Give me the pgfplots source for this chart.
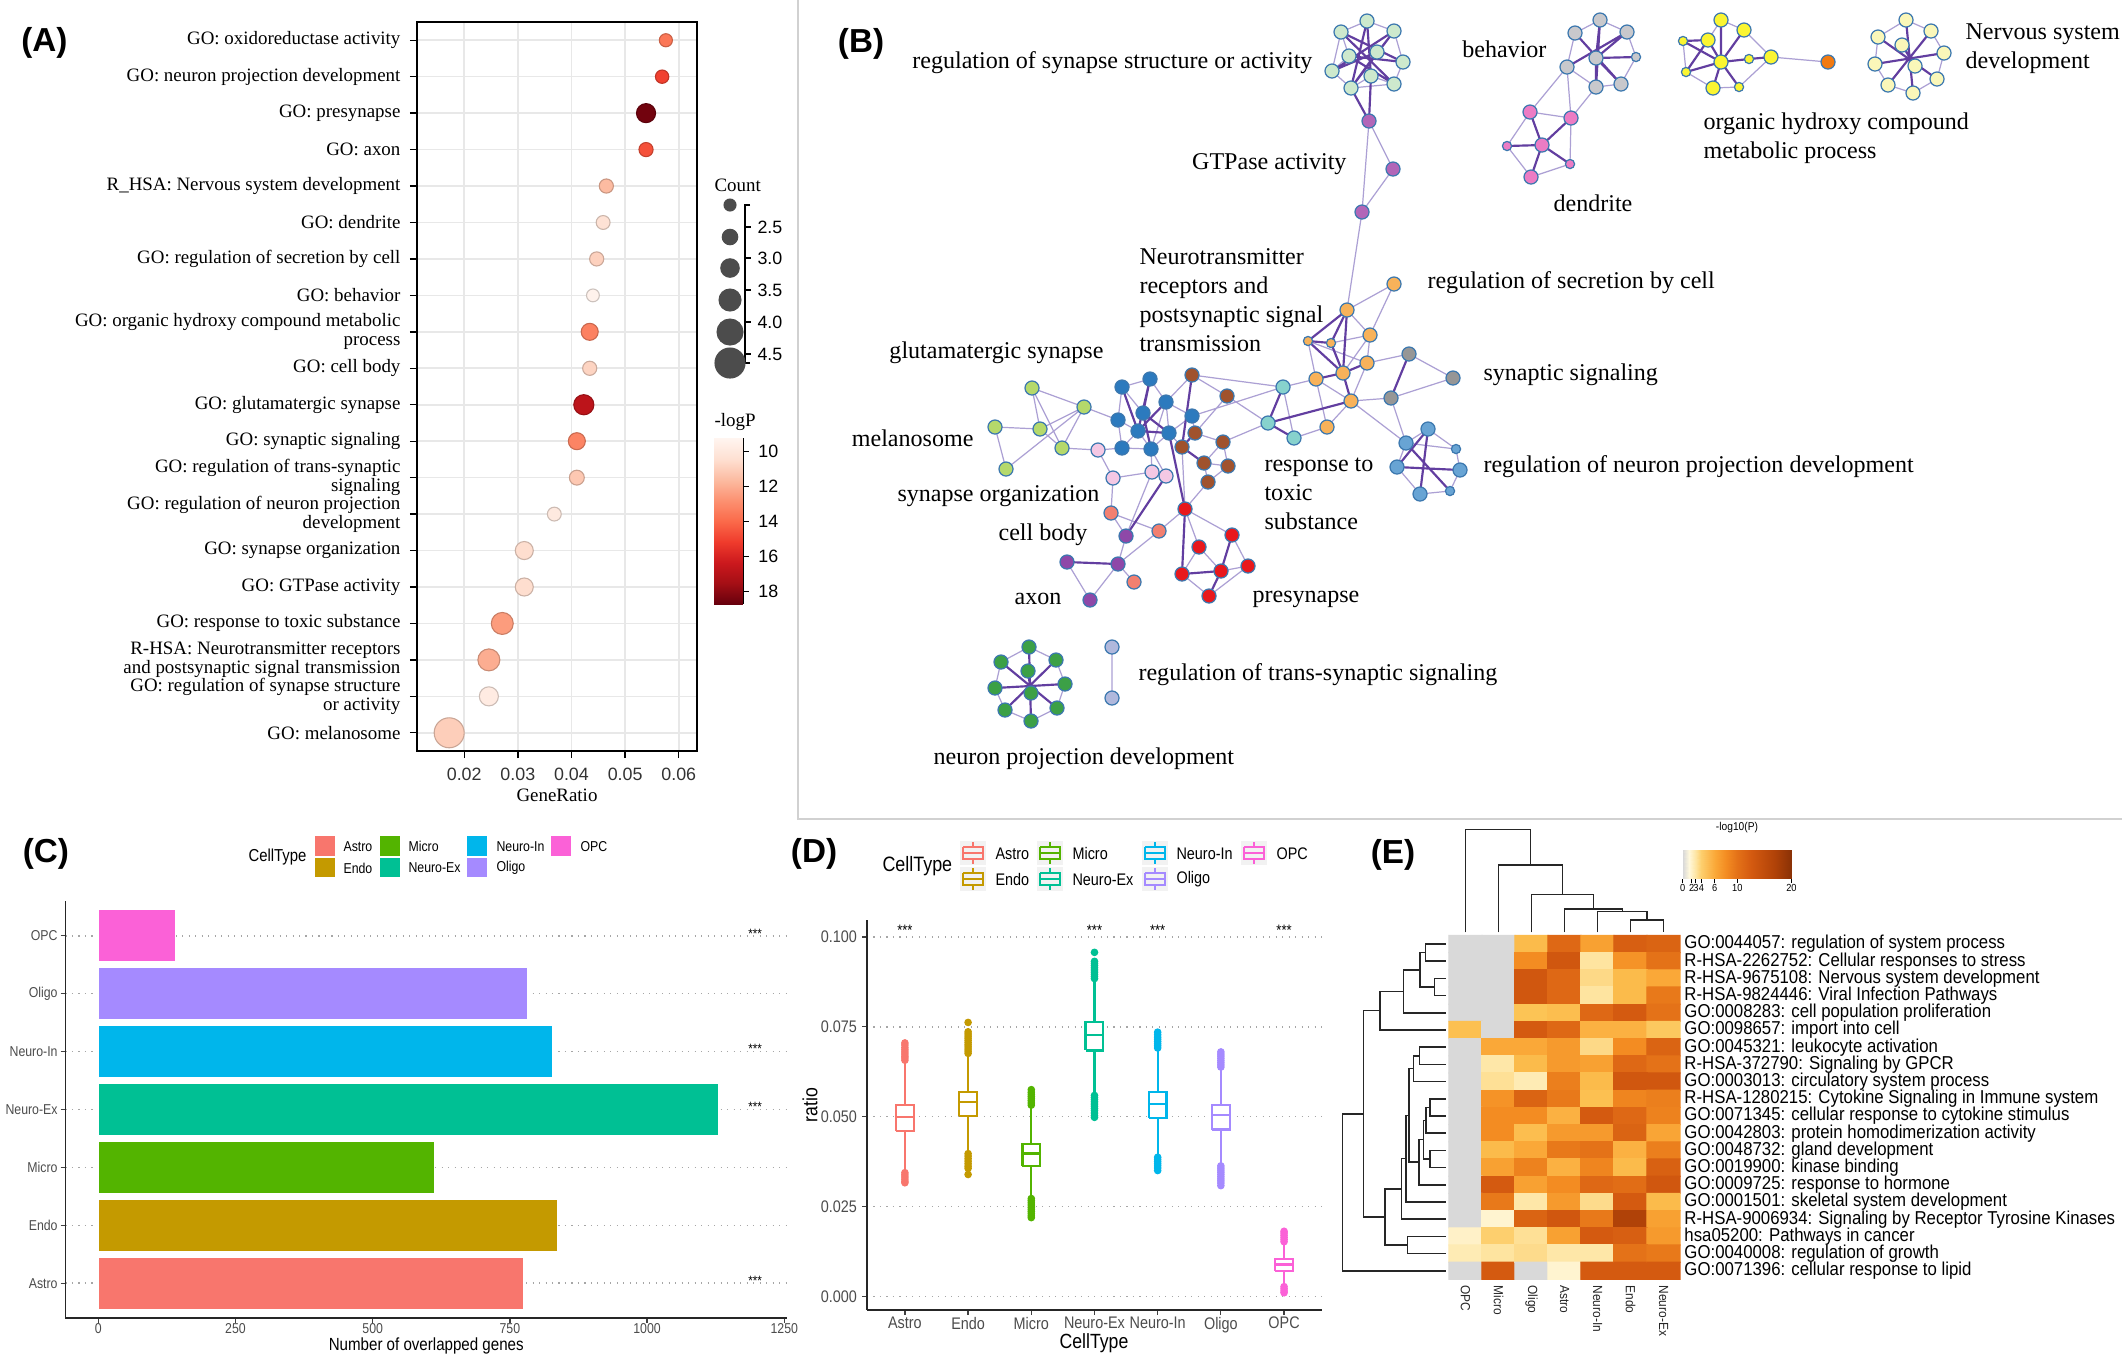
\documentclass[border=0pt]{standalone}
\usepackage{fontspec}
\setmainfont{Liberation Serif}
\setsansfont{Liberation Sans}
\newfontfamily\nsans[FakeStretch=0.86]{Liberation Sans}
\newfontfamily\esans[FakeStretch=0.9]{Liberation Sans}
\usepackage{pgfplots}
\pgfplotsset{compat=1.18}
\definecolor{cAstro}{HTML}{F8766D}
\definecolor{cEndo}{HTML}{C49A00}
\definecolor{cMicro}{HTML}{53B400}
\definecolor{cNeuroEx}{HTML}{00C094}
\definecolor{cNeuroIn}{HTML}{00B6EB}
\definecolor{cOligo}{HTML}{A58AFF}
\definecolor{cOPC}{HTML}{FB61D7}
\definecolor{nodeedge}{RGB}{60,120,175}
\definecolor{elight}{RGB}{172,160,212}
\definecolor{estrong}{RGB}{98,62,160}
\definecolor{cSyn}{RGB}{205,233,205}
\definecolor{cGTP}{RGB}{178,102,184}
\definecolor{cOrg}{RGB}{247,178,90}
\definecolor{cGry}{RGB}{150,150,150}
\definecolor{cTea}{RGB}{135,210,205}
\definecolor{cLbl}{RGB}{104,164,212}
\definecolor{cDbl}{RGB}{44,122,190}
\definecolor{cBrn}{RGB}{160,82,45}
\definecolor{cMel}{RGB}{181,217,107}
\definecolor{cPnk}{RGB}{244,200,228}
\definecolor{cSal}{RGB}{242,128,112}
\definecolor{cAxn}{RGB}{142,72,168}
\definecolor{cRed}{RGB}{232,24,28}
\definecolor{cGrn}{RGB}{60,160,70}
\definecolor{cLav}{RGB}{176,184,220}
\definecolor{cBeh}{RGB}{200,200,204}
\definecolor{cDen}{RGB}{236,124,196}
\definecolor{cYel}{RGB}{250,245,50}
\definecolor{cDor}{RGB}{242,122,16}
\definecolor{cLye}{RGB}{250,247,185}
\pgfplotsset{
 colormap={reds}{rgb255=(255,245,240) rgb255=(254,224,210) rgb255=(252,187,161) rgb255=(252,146,114) rgb255=(251,106,74) rgb255=(239,59,44) rgb255=(203,24,29) rgb255=(165,15,21) rgb255=(103,0,13)},
 colormap={heat}{rgb255(0cm)=(217,217,217) rgb255(1.5cm)=(255,248,220) rgb255(3cm)=(254,228,160) rgb255(4.5cm)=(252,196,85) rgb255(6cm)=(250,168,56) rgb255(8cm)=(243,140,34) rgb255(10cm)=(228,114,24) rgb255(12.5cm)=(212,90,16) rgb255(17cm)=(176,66,8) rgb255(20cm)=(139,50,6)},
 colormap={heatleg}{rgb255(0cm)=(217,217,217) rgb255(13.5cm)=(255,248,220) rgb255(26cm)=(254,228,160) rgb255(37cm)=(253,207,110) rgb255(63cm)=(250,168,56) rgb255(85cm)=(243,140,34) rgb255(107cm)=(228,114,24) rgb255(133.5cm)=(212,90,16) rgb255(181cm)=(176,66,8) rgb255(213cm)=(139,50,6)},
 netnode/.style={only marks, mark=*, mark size=2.6pt, mark options={draw=nodeedge, line width=0.45pt, fill=#1}},
 netsmall/.style={only marks, mark=*, mark size=1.7pt, mark options={draw=nodeedge, line width=0.45pt, fill=#1}},
}
\newcommand\fB{\fontsize{8.9}{10.73}\selectfont}
\begin{document}
\begin{tikzpicture}
\path[use as bounding box] (0,0) rectangle (787.36pt,-503.94pt);
\fill[white] (0,0) rectangle (787.36pt,-503.94pt);

%================ OVERLAY (pixel coordinates) ================
\begin{axis}[at={(0pt,0pt)}, anchor=north west, scale only axis, width=787.36pt, height=503.94pt,
 xmin=0, xmax=2128, ymin=0, ymax=1362, y dir=reverse, hide axis, clip=false]
% panel B frame
\addplot[draw=black!18, line width=0.7pt] coordinates {(798,0) (798,819) (2122,819)};
% light edges
\addplot[elight, line width=0.45pt, unbounded coords=jump] coordinates {
(1367,21)(1341,32) (nan,nan) (1367,21)(1394,31) (nan,nan) (1394,31)(1403,62) (nan,nan) (1403,62)(1394,84) (nan,nan)
(1394,84)(1351,88) (nan,nan) (1351,88)(1332,71) (nan,nan) (1332,71)(1341,32) (nan,nan) (1341,32)(1349,56) (nan,nan)
(1377,52)(1394,31) (nan,nan) (1349,56)(1332,71) (nan,nan) (1371,76)(1394,84) (nan,nan) (1371,76)(1351,88) (nan,nan)
(1369,121)(1393,169) (nan,nan) (1393,169)(1362,212) (nan,nan) (1369,121)(1362,212) (nan,nan) (1362,212)(1347,310) (nan,nan)
(1394,284)(1347,310) (nan,nan) (1394,284)(1370,335) (nan,nan) (1347,310)(1370,335) (nan,nan) (1308,341)(1367,363) (nan,nan)
(1331,343)(1370,335) (nan,nan) (1370,335)(1367,363) (nan,nan) (1367,363)(1351,401) (nan,nan) (1316,379)(1351,401) (nan,nan)
(1308,341)(1316,379) (nan,nan) (1370,335)(1343,373) (nan,nan) (1316,379)(1283,387) (nan,nan) (1327,427)(1294,438) (nan,nan)
(1327,427)(1316,379) (nan,nan) (1351,401)(1327,427) (nan,nan) (1409,354)(1453,378) (nan,nan) (1391,398)(1453,378) (nan,nan)
(1409,354)(1367,363) (nan,nan) (1391,398)(1351,401) (nan,nan) (1391,398)(1406,443) (nan,nan) (1351,401)(1406,443) (nan,nan)
(1283,387)(1294,438) (nan,nan) (1283,387)(1192,416) (nan,nan) (1268,423)(1227,396) (nan,nan) (1283,387)(1192,375) (nan,nan)
(1268,423)(1223,442) (nan,nan) (1406,443)(1456,449) (nan,nan) (1397,467)(1420,494) (nan,nan) (1420,494)(1450,491) (nan,nan)
(1456,449)(1460,470) (nan,nan) (1428,429)(1406,443) (nan,nan) (1460,470)(1450,491) (nan,nan) (1406,443)(1397,467) (nan,nan)
(1428,429)(1456,449) (nan,nan) (1122,387)(1143,413) (nan,nan) (1150,379)(1166,402) (nan,nan) (1166,402)(1169,433) (nan,nan)
(1118,420)(1138,431) (nan,nan) (1192,416)(1169,433) (nan,nan) (1138,431)(1151,449) (nan,nan) (1122,448)(1151,449) (nan,nan)
(1122,448)(1138,431) (nan,nan) (1122,387)(1118,420) (nan,nan) (1166,402)(1151,449) (nan,nan) (1169,433)(1151,449) (nan,nan)
(1192,416)(1166,402) (nan,nan) (1118,420)(1122,448) (nan,nan) (1122,387)(1150,379) (nan,nan) (1192,375)(1227,396) (nan,nan)
(1195,433)(1223,442) (nan,nan) (1223,442)(1204,463) (nan,nan) (1204,463)(1228,466) (nan,nan) (1204,463)(1208,482) (nan,nan)
(1228,466)(1208,482) (nan,nan) (1223,442)(1228,466) (nan,nan) (1227,396)(1195,433) (nan,nan) (1182,447)(1169,433) (nan,nan)
(1195,433)(1192,416) (nan,nan) (1192,375)(1166,402) (nan,nan) (1032,388)(1084,407) (nan,nan) (1032,388)(1040,429) (nan,nan)
(1032,388)(1062,448) (nan,nan) (1084,407)(1040,429) (nan,nan) (995,427)(1040,429) (nan,nan) (1040,429)(1062,448) (nan,nan)
(995,427)(1006,469) (nan,nan) (1006,469)(1084,407) (nan,nan) (1084,407)(1062,448) (nan,nan) (1062,448)(1098,450) (nan,nan)
(1084,407)(1118,420) (nan,nan) (1098,450)(1113,478) (nan,nan) (1098,450)(1122,448) (nan,nan) (1113,478)(1152,472) (nan,nan)
(1152,472)(1166,476) (nan,nan) (1152,472)(1151,449) (nan,nan) (1166,476)(1151,449) (nan,nan) (1113,478)(1111,513) (nan,nan)
(1111,513)(1159,531) (nan,nan) (1111,513)(1126,536) (nan,nan) (1159,531)(1118,564) (nan,nan) (1134,582)(1118,564) (nan,nan)
(1126,536)(1118,564) (nan,nan) (1067,562)(1090,600) (nan,nan) (1118,564)(1090,600) (nan,nan) (1126,536)(1152,472) (nan,nan)
(1159,531)(1185,509) (nan,nan) (1185,509)(1199,547) (nan,nan) (1185,509)(1232,535) (nan,nan) (1232,535)(1248,566) (nan,nan)
(1199,547)(1221,571) (nan,nan) (1199,547)(1182,574) (nan,nan) (1221,571)(1248,566) (nan,nan) (1248,566)(1209,596) (nan,nan)
(1182,574)(1209,596) (nan,nan) (1185,509)(1182,447) (nan,nan) (1185,509)(1208,482) (nan,nan) (1029,647)(1001,662) (nan,nan)
(1029,647)(1056,660) (nan,nan) (1056,660)(1065,684) (nan,nan) (1065,684)(1057,708) (nan,nan) (1057,708)(1031,721) (nan,nan)
(1031,721)(1005,710) (nan,nan) (1005,710)(995,688) (nan,nan) (995,688)(1001,662) (nan,nan) (1112,647)(1112,698) (nan,nan)
(1600,20)(1575,33) (nan,nan) (1600,20)(1627,32) (nan,nan) (1627,32)(1636,57) (nan,nan) (1636,57)(1621,84) (nan,nan)
(1621,84)(1596,87) (nan,nan) (1596,87)(1567,67) (nan,nan) (1567,67)(1575,33) (nan,nan) (1567,67)(1530,112) (nan,nan)
(1567,67)(1571,118) (nan,nan) (1596,87)(1571,118) (nan,nan) (1530,112)(1507,146) (nan,nan) (1507,146)(1531,177) (nan,nan)
(1570,164)(1531,177) (nan,nan) (1571,118)(1570,164) (nan,nan) (1530,112)(1571,118) (nan,nan) (1683,41)(1686,72) (nan,nan)
(1721,20)(1744,30) (nan,nan) (1744,30)(1771,57) (nan,nan) (1713,88)(1739,87) (nan,nan) (1686,72)(1713,88) (nan,nan)
(1721,20)(1708,40) (nan,nan) (1739,87)(1771,57) (nan,nan) (1771,57)(1828,62) (nan,nan) (1906,20)(1931,31) (nan,nan)
(1931,31)(1944,53) (nan,nan) (1944,53)(1937,79) (nan,nan) (1937,79)(1913,93) (nan,nan) (1913,93)(1888,85) (nan,nan)
(1888,85)(1875,64) (nan,nan) (1875,64)(1878,37) (nan,nan) (1878,37)(1906,20)
};
% strong edges
\addplot[estrong, line width=0.8pt, unbounded coords=jump] coordinates {
(1367,21)(1371,76) (nan,nan) (1367,21)(1351,88) (nan,nan) (1341,32)(1394,84) (nan,nan) (1341,32)(1403,62) (nan,nan)
(1394,31)(1332,71) (nan,nan) (1394,31)(1351,88) (nan,nan) (1349,56)(1403,62) (nan,nan) (1377,52)(1332,71) (nan,nan)
(1349,56)(1394,84) (nan,nan) (1377,52)(1351,88) (nan,nan) (1351,88)(1369,121) (nan,nan) (1371,76)(1369,121) (nan,nan)
(1347,310)(1308,341) (nan,nan) (1347,310)(1331,343) (nan,nan) (1347,310)(1343,373) (nan,nan) (1308,341)(1331,343) (nan,nan)
(1308,341)(1343,373) (nan,nan) (1331,343)(1343,373) (nan,nan) (1343,373)(1351,401) (nan,nan) (1367,363)(1343,373) (nan,nan)
(1343,373)(1316,379) (nan,nan) (1409,354)(1391,398) (nan,nan) (1283,387)(1268,423) (nan,nan) (1268,423)(1351,401) (nan,nan)
(1268,423)(1294,438) (nan,nan) (1428,429)(1420,494) (nan,nan) (1397,467)(1460,470) (nan,nan) (1406,443)(1450,491) (nan,nan)
(1428,429)(1397,467) (nan,nan) (1150,379)(1143,413) (nan,nan) (1138,431)(1169,433) (nan,nan) (1150,379)(1138,431) (nan,nan)
(1143,413)(1169,433) (nan,nan) (1166,402)(1138,431) (nan,nan) (1122,387)(1138,431) (nan,nan) (1143,413)(1151,449) (nan,nan)
(1192,375)(1182,447) (nan,nan) (1195,433)(1182,447) (nan,nan) (1182,447)(1204,463) (nan,nan) (1067,562)(1118,564) (nan,nan)
(1126,536)(1166,476) (nan,nan) (1232,535)(1221,571) (nan,nan) (1182,574)(1221,571) (nan,nan) (1221,571)(1209,596) (nan,nan)
(1185,509)(1182,574) (nan,nan) (1185,509)(1169,433) (nan,nan) (1029,647)(1031,721) (nan,nan) (1001,662)(1057,708) (nan,nan)
(1056,660)(1005,710) (nan,nan) (995,688)(1065,684) (nan,nan) (1028,671)(1031,693) (nan,nan) (1596,58)(1600,20) (nan,nan)
(1596,58)(1627,32) (nan,nan) (1596,58)(1636,57) (nan,nan) (1596,58)(1596,87) (nan,nan) (1596,58)(1621,84) (nan,nan)
(1575,33)(1621,84) (nan,nan) (1600,20)(1596,87) (nan,nan) (1627,32)(1567,67) (nan,nan) (1530,112)(1542,145) (nan,nan)
(1571,118)(1542,145) (nan,nan) (1507,146)(1542,145) (nan,nan) (1542,145)(1570,164) (nan,nan) (1542,145)(1531,177) (nan,nan)
(1721,62)(1721,20) (nan,nan) (1721,62)(1744,30) (nan,nan) (1721,62)(1683,41) (nan,nan) (1721,62)(1708,40) (nan,nan)
(1721,62)(1749,59) (nan,nan) (1721,62)(1686,72) (nan,nan) (1721,62)(1713,88) (nan,nan) (1721,62)(1739,87) (nan,nan)
(1749,59)(1771,57) (nan,nan) (1708,40)(1686,72) (nan,nan) (1683,41)(1708,40) (nan,nan) (1906,20)(1913,93) (nan,nan)
(1931,31)(1888,85) (nan,nan) (1878,37)(1937,79) (nan,nan) (1944,53)(1875,64) (nan,nan) (1902,45)(1915,66)
};
% network nodes
\addplot[netnode=cSyn] coordinates {(1367,21)(1341,32)(1394,31)(1349,56)(1377,52)(1403,62)(1332,71)(1371,76)(1394,84)(1351,88)};
\addplot[netnode=cGTP] coordinates {(1369,121)(1393,169)(1362,212)};
\addplot[netnode=cOrg] coordinates {(1394,284)(1347,310)(1370,335)(1367,363)(1343,373)(1316,379)(1351,401)(1327,427)};
\addplot[netsmall=cOrg] coordinates {(1308,341)(1331,343)};
\addplot[netnode=cGry] coordinates {(1409,354)(1453,378)(1391,398)};
\addplot[netnode=cTea] coordinates {(1283,387)(1268,423)(1294,438)};
\addplot[netnode=cLbl] coordinates {(1428,429)(1406,443)(1397,467)(1460,470)(1420,494)};
\addplot[netsmall=cLbl] coordinates {(1456,449)(1450,491)};
\addplot[netnode=cDbl] coordinates {(1122,387)(1150,379)(1166,402)(1143,413)(1118,420)(1192,416)(1138,431)(1169,433)(1122,448)(1151,449)};
\addplot[netnode=cBrn] coordinates {(1192,375)(1227,396)(1195,433)(1223,442)(1182,447)(1204,463)(1228,466)(1208,482)};
\addplot[netnode=cMel] coordinates {(1032,388)(1084,407)(995,427)(1040,429)(1062,448)(1006,469)};
\addplot[netnode=cPnk] coordinates {(1098,450)(1113,478)(1152,472)(1166,476)};
\addplot[netnode=cSal] coordinates {(1111,513)(1159,531)(1134,582)};
\addplot[netnode=cAxn] coordinates {(1126,536)(1067,562)(1118,564)(1090,600)};
\addplot[netnode=cRed] coordinates {(1185,509)(1232,535)(1199,547)(1182,574)(1221,571)(1248,566)(1209,596)};
\addplot[netnode=cGrn] coordinates {(1029,647)(1001,662)(1056,660)(1028,671)(995,688)(1065,684)(1031,693)(1005,710)(1057,708)(1031,721)};
\addplot[netnode=cLav] coordinates {(1112,647)(1112,698)};
\addplot[netnode=cBeh] coordinates {(1600,20)(1575,33)(1627,32)(1596,58)(1567,67)(1596,87)(1621,84)};
\addplot[netsmall=cBeh] coordinates {(1636,57)};
\addplot[netnode=cDen] coordinates {(1530,112)(1571,118)(1542,145)(1531,177)};
\addplot[netsmall=cDen] coordinates {(1507,146)(1570,164)};
\addplot[netnode=cYel] coordinates {(1721,20)(1744,30)(1708,40)(1721,62)(1771,57)(1713,88)};
\addplot[netsmall=cYel] coordinates {(1683,41)(1749,59)(1686,72)(1739,87)};
\addplot[netnode=cDor] coordinates {(1828,62)};
\addplot[netnode=cLye] coordinates {(1906,20)(1931,31)(1878,37)(1902,45)(1944,53)(1875,64)(1915,66)(1937,79)(1888,85)(1913,93)};
% network labels
\begin{scope}[every node/.style={inner sep=0pt, font=\fB}]
\node[anchor=east] at (axis cs:1313,63) {regulation of synapse structure or activity};
\node[anchor=east] at (axis cs:1347,164) {GTPase activity};
\node[anchor=west, align=left] at (axis cs:1139,300) {Neurotransmitter\\receptors and\\postsynaptic signal\\transmission};
\node[anchor=east] at (axis cs:1547,49) {behavior};
\node[anchor=west] at (axis cs:1553,203) {dendrite};
\node[anchor=west, align=left] at (axis cs:1703,138.5) {organic hydroxy compound\\metabolic process};
\node[anchor=west, align=left] at (axis cs:1965,49) {Nervous system\\development};
\node[anchor=west] at (axis cs:1427,283) {regulation of secretion by cell};
\node[anchor=west] at (axis cs:1483,375) {synaptic signaling};
\node[anchor=west] at (axis cs:1483,467) {regulation of neuron projection development};
\node[anchor=east] at (axis cs:1104,353) {glutamatergic synapse};
\node[anchor=east] at (axis cs:974,438) {melanosome};
\node[anchor=east] at (axis cs:1100,496) {synapse organization};
\node[anchor=west, align=left] at (axis cs:1264,493.5) {response to\\toxic\\substance};
\node[anchor=east] at (axis cs:1088,535) {cell body};
\node[anchor=east] at (axis cs:1062,599) {axon};
\node[anchor=west] at (axis cs:1252,599) {presynapse};
\node[anchor=west] at (axis cs:1138,675) {regulation of trans-synaptic signaling};
\node[anchor=west] at (axis cs:933,759) {neuron projection development};
\end{scope}
% panel labels
\begin{scope}[every node/.style={font=\sffamily\bfseries\fontsize{12.3}{13}\selectfont, inner sep=0pt}]
\node at (axis cs:44.5,42.5) {(A)};
\node at (axis cs:861,44) {(B)};
\node at (axis cs:46,853.5) {(C)};
\node at (axis cs:814,853.5) {(D)};
\node at (axis cs:1393,854.5) {(E)};
\end{scope}
% Panel A count legend
\node[anchor=west, inner sep=0pt, font=\fontsize{7}{8}\selectfont] at (axis cs:714,185) {Count};
\node[anchor=west, inner sep=0pt, font=\fontsize{7}{8}\selectfont] at (axis cs:714,422) {-logP};
\addplot[only marks, mark=*, mark size=2.22pt, color=black!70] coordinates {(730,205)};
\addplot[only marks, mark=*, mark size=2.87pt, color=black!70] coordinates {(730,237)};
\addplot[only marks, mark=*, mark size=3.42pt, color=black!70] coordinates {(730,268)};
\addplot[only marks, mark=*, mark size=4.07pt, color=black!70] coordinates {(730,300)};
\addplot[only marks, mark=*, mark size=4.81pt, color=black!70] coordinates {(730,332)};
\addplot[only marks, mark=*, mark size=5.55pt, color=black!70] coordinates {(730,363)};
\addplot[black, line width=0.5pt, unbounded coords=jump] coordinates {(750,205)(745,205)(745,363)(750,363) (nan,nan)
 (745,227)(751,227) (nan,nan) (745,258)(751,258) (nan,nan) (745,290)(751,290) (nan,nan) (745,322)(751,322) (nan,nan) (745,354)(751,354)};
\begin{scope}[every node/.style={anchor=west, inner sep=0pt, font=\sffamily\fontsize{6.6}{7}\selectfont}]
\node at (axis cs:757,227) {2.5};
\node at (axis cs:757,258) {3.0};
\node at (axis cs:757,290) {3.5};
\node at (axis cs:757,322) {4.0};
\node at (axis cs:757,354) {4.5};
\end{scope}
% Panel C legend
\node[anchor=west, inner sep=0pt, font=\nsans\fontsize{6.4}{7}\selectfont] at (axis cs:248,857) {CellType};
\addplot[fill=cAstro, draw=none] coordinates {(315,836)(335,836)(335,856)(315,856)};
\addplot[fill=cEndo, draw=none] coordinates {(315,858)(335,858)(335,877)(315,877)};
\addplot[fill=cMicro, draw=none] coordinates {(380,836)(400,836)(400,856)(380,856)};
\addplot[fill=cNeuroEx, draw=none] coordinates {(380,858)(400,858)(400,877)(380,877)};
\addplot[fill=cNeuroIn, draw=none] coordinates {(467,836)(487,836)(487,856)(467,856)};
\addplot[fill=cOligo, draw=none] coordinates {(467,858)(487,858)(487,877)(467,877)};
\addplot[fill=cOPC, draw=none] coordinates {(551,836)(571,836)(571,856)(551,856)};
\begin{scope}[every node/.style={anchor=west, inner sep=0pt, font=\nsans\fontsize{5.3}{6}\selectfont}]
\node at (axis cs:343,846.5) {Astro};
\node at (axis cs:343,868) {Endo};
\node at (axis cs:408,846.5) {Micro};
\node at (axis cs:408,868) {Neuro-Ex};
\node at (axis cs:496,846.5) {Neuro-In};
\node at (axis cs:496,868) {Oligo};
\node at (axis cs:580,846.5) {OPC};
\end{scope}
% Panel D legend
\node[anchor=west, inner sep=0pt, font=\nsans\fontsize{7.7}{8}\selectfont] at (axis cs:882,866.5) {CellType};
\addplot[fill=black!5, draw=none] coordinates {(960,841)(986,841)(986,865)(960,865)};
\addplot[fill=black!5, draw=none] coordinates {(960,867)(986,867)(986,891)(960,891)};
\addplot[fill=black!5, draw=none] coordinates {(1037,841)(1063,841)(1063,865)(1037,865)};
\addplot[fill=black!5, draw=none] coordinates {(1037,867)(1063,867)(1063,891)(1037,891)};
\addplot[fill=black!5, draw=none] coordinates {(1142,841)(1168,841)(1168,865)(1142,865)};
\addplot[fill=black!5, draw=none] coordinates {(1142,867)(1168,867)(1168,891)(1142,891)};
\addplot[fill=black!5, draw=none] coordinates {(1241,841)(1267,841)(1267,865)(1241,865)};
\addplot[cAstro, line width=0.75pt, unbounded coords=jump] coordinates {(963,847)(983,847)(983,859)(963,859)(963,847) (nan,nan) (963,853)(983,853) (nan,nan) (973,842)(973,847) (nan,nan) (973,859)(973,864)};
\addplot[cEndo, line width=0.75pt, unbounded coords=jump] coordinates {(963,873)(983,873)(983,885)(963,885)(963,873) (nan,nan) (963,879)(983,879) (nan,nan) (973,868)(973,873) (nan,nan) (973,885)(973,890)};
\addplot[cMicro, line width=0.75pt, unbounded coords=jump] coordinates {(1040,847)(1060,847)(1060,859)(1040,859)(1040,847) (nan,nan) (1040,853)(1060,853) (nan,nan) (1050,842)(1050,847) (nan,nan) (1050,859)(1050,864)};
\addplot[cNeuroEx, line width=0.75pt, unbounded coords=jump] coordinates {(1040,873)(1060,873)(1060,885)(1040,885)(1040,873) (nan,nan) (1040,879)(1060,879) (nan,nan) (1050,868)(1050,873) (nan,nan) (1050,885)(1050,890)};
\addplot[cNeuroIn, line width=0.75pt, unbounded coords=jump] coordinates {(1145,847)(1165,847)(1165,859)(1145,859)(1145,847) (nan,nan) (1145,853)(1165,853) (nan,nan) (1155,842)(1155,847) (nan,nan) (1155,859)(1155,864)};
\addplot[cOligo, line width=0.75pt, unbounded coords=jump] coordinates {(1145,873)(1165,873)(1165,885)(1145,885)(1145,873) (nan,nan) (1145,879)(1165,879) (nan,nan) (1155,868)(1155,873) (nan,nan) (1155,885)(1155,890)};
\addplot[cOPC, line width=0.75pt, unbounded coords=jump] coordinates {(1244,847)(1264,847)(1264,859)(1244,859)(1244,847) (nan,nan) (1244,853)(1264,853) (nan,nan) (1254,842)(1254,847) (nan,nan) (1254,859)(1254,864)};
\begin{scope}[every node/.style={anchor=west, inner sep=0pt, font=\nsans\fontsize{6.2}{7}\selectfont}]
\node at (axis cs:995,853.5) {Astro};
\node at (axis cs:995,879.5) {Endo};
\node at (axis cs:1072,853.5) {Micro};
\node at (axis cs:1072,879.5) {Neuro-Ex};
\node at (axis cs:1176,853.5) {Neuro-In};
\node at (axis cs:1176,879.5) {Oligo};
\node at (axis cs:1276,853.5) {OPC};
\end{scope}
\end{axis}

%================ PANEL A ================
\begin{axis}[at={(417*0.37pt,-22*0.37pt)}, anchor=north west, scale only axis,
 width=103.6pt, height=269.73pt,
 xmin=0.0112, xmax=0.0634, ymin=0.5, ymax=20.5,
 scaled x ticks=false,
 xtick={0.02,0.03,0.04,0.05,0.06}, xticklabels={0.02,0.03,0.04,0.05,0.06},
 ytick={1,...,20},
 yticklabels={{GO: melanosome},{GO: regulation of synapse structure\\or activity},{R-HSA: Neurotransmitter receptors\\and postsynaptic signal transmission},{GO: response to toxic substance},{GO: GTPase activity},{GO: synapse organization},{GO: regulation of neuron projection\\development},{GO: regulation of trans-synaptic\\signaling},{GO: synaptic signaling},{GO: glutamatergic synapse},{GO: cell body},{GO: organic hydroxy compound metabolic\\process},{GO: behavior},{GO: regulation of secretion by cell},{GO: dendrite},{R\_HSA: Nervous system development},{GO: axon},{GO: presynapse},{GO: neuron projection development},{GO: oxidoreductase activity}},
 xtick pos=bottom, ytick pos=left, tick align=outside, major tick length=2.6pt,
 tick style={black, line width=0.5pt},
 grid=major, grid style={color=black!9, line width=0.6pt},
 axis line style={black, line width=0.6pt},
 xticklabel style={font=\sffamily\fontsize{6.6}{7}\selectfont, text=black!80},
 yticklabel style={font=\fontsize{7}{7.03}\selectfont, align=right, text=black},
 xlabel={GeneRatio}, xlabel style={font=\fontsize{7}{8}\selectfont, at={(axis description cs:0.5,0)}, anchor=center, yshift=-16.3pt},
 colormap name=reds, point meta min=9.24, point meta max=18.7]
\addplot[scatter, only marks, mark=*, point meta=explicit,
 visualization depends on={0.74+0.962*\thisrow{cnt} \as \msz},
 scatter/@pre marker code/.append style={/tikz/mark size=\msz pt}]
 table[x=gr, y=pos, meta=lp, row sep=\\] {
pos gr lp cnt\\
20 0.0576 13.6 1.75\\
19 0.0569 15.0 1.8\\
18 0.0539 18.5 2.9\\
17 0.0539 14.6 1.95\\
16 0.0465 11.6 1.95\\
15 0.0459 10.3 1.9\\
14 0.0447 10.9 1.95\\
13 0.0440 9.4 1.7\\
12 0.0434 13.3 2.5\\
11 0.0434 10.8 1.95\\
10 0.0423 16.8 3.1\\
9 0.0410 13.2 2.5\\
8 0.0410 11.2 2.1\\
7 0.0368 9.9 1.9\\
6 0.0312 10.5 2.7\\
5 0.0312 10.5 2.7\\
4 0.0271 12.5 3.45\\
3 0.0246 12.0 3.45\\
2 0.0246 9.8 2.9\\
1 0.0172 11.0 5.0\\
};
\end{axis}

% colorbar A
\begin{axis}[at={(714*0.37pt,-438*0.37pt)}, anchor=north west, scale only axis,
 width=10.73pt, height=61.42pt, xmin=0, xmax=1, ymin=9.24, ymax=18.7, y dir=reverse,
 axis x line=none, axis y line*=right, axis line style={black, line width=0.5pt},
 ytick={10,12,14,16,18}, yticklabels={10,12,14,16,18}, tick align=outside, major tick length=2.2pt,
 tick style={black, line width=0.5pt}, yticklabel style={font=\sffamily\fontsize{6.6}{7}\selectfont},
 colormap name=reds, point meta min=9.24, point meta max=18.7]
\addplot[surf, shader=interp, mesh/cols=2, point meta=explicit] table[meta=v, row sep=\\] {
x y v\\
0 9.24 9.24\\ 1 9.24 9.24\\
0 10.42 10.42\\ 1 10.42 10.42\\
0 11.61 11.61\\ 1 11.61 11.61\\
0 12.79 12.79\\ 1 12.79 12.79\\
0 13.97 13.97\\ 1 13.97 13.97\\
0 15.15 15.15\\ 1 15.15 15.15\\
0 16.34 16.34\\ 1 16.34 16.34\\
0 17.52 17.52\\ 1 17.52 17.52\\
0 18.7 18.7\\ 1 18.7 18.7\\
};
\end{axis}

%================ PANEL C ================
\begin{axis}[at={(65.5*0.37pt,-901*0.37pt)}, anchor=north west, scale only axis,
 width=266.96pt, height=154.29pt,
 xmin=-59.8, xmax=1255, ymin=0.4, ymax=7.6,
 axis x line=bottom, axis y line=left, axis line style={-, black!85, line width=0.55pt},
 xtick={0,250,500,750,1000,1250}, xticklabels={0,250,500,750,1000,1250},
 ytick={1,...,7}, yticklabels={Astro,Endo,Micro,Neuro-Ex,Neuro-In,Oligo,OPC},
 tick align=outside, major tick length=1.8pt, tick style={black!75, line width=0.45pt},
 ticklabel style={font=\nsans\fontsize{5.3}{6}\selectfont, text=black!70},
 xticklabel style={yshift=3.2pt}, yticklabel style={xshift=2.4pt},
 ymajorgrids, grid style={dotted, black!35, line width=0.6pt},
 xbar, bar width=0.9, bar shift=0pt,
 xlabel={Number of overlapped genes}, xlabel style={font=\nsans\fontsize{6.5}{7}\selectfont, at={(axis description cs:0.5,0)}, anchor=center, yshift=-10.3pt},
 clip=false]
\addplot[fill=cAstro, draw=white, line width=0.3pt] coordinates {(774,1)};
\addplot[fill=cEndo, draw=white, line width=0.3pt] coordinates {(837,2)};
\addplot[fill=cMicro, draw=white, line width=0.3pt] coordinates {(612,3)};
\addplot[fill=cNeuroEx, draw=white, line width=0.3pt] coordinates {(1130,4)};
\addplot[fill=cNeuroIn, draw=white, line width=0.3pt] coordinates {(828,5)};
\addplot[fill=cOligo, draw=white, line width=0.3pt] coordinates {(782,6)};
\addplot[fill=cOPC, draw=white, line width=0.3pt] coordinates {(141,7)};
\begin{scope}[every node/.style={font=\nsans\fontsize{5}{5}\selectfont, inner sep=0pt}]
\node at (axis cs:1197,7.04) {***};
\node at (axis cs:1197,5.04) {***};
\node at (axis cs:1197,4.04) {***};
\node at (axis cs:1197,1.04) {***};
\end{scope}
\end{axis}

%================ PANEL D ================
\begin{axis}[at={(867*0.37pt,-920*0.37pt)}, anchor=north west, scale only axis,
 width=168.35pt, height=144.23pt,
 xmin=0.4, xmax=7.6, ymin=-0.00375, ymax=0.1047,
 axis x line=bottom, axis y line=left, axis line style={-, black!85, line width=0.55pt},
 xtick={1,...,7}, xticklabels={Astro,Endo,Micro,Neuro-Ex,Neuro-In,Oligo,OPC},
 ytick={0,0.025,0.05,0.075,0.1}, yticklabels={0.000,0.025,0.050,0.075,0.100},
 scaled y ticks=false,
 tick align=outside, major tick length=1.8pt, tick style={black!75, line width=0.45pt},
 ticklabel style={font=\nsans\fontsize{6.2}{7}\selectfont, text=black!70},
 xticklabel style={yshift=2.6pt}, yticklabel style={xshift=1.6pt},
 ymajorgrids, grid style={dotted, black!35, line width=0.6pt},
 xlabel={CellType}, xlabel style={font=\nsans\fontsize{7.6}{8}\selectfont, at={(axis description cs:0.499,0)}, anchor=center, yshift=-12.2pt},
 ylabel={ratio}, ylabel style={font=\nsans\fontsize{7.6}{8}\selectfont, at={(axis description cs:-0.1253,0.525)}, anchor=center},
 clip=false]
% whiskers
\addplot[cAstro, line width=0.85pt, unbounded coords=jump] coordinates {(1,0.0532)(1,0.0652) (nan,nan) (1,0.0460)(1,0.0349)};
\addplot[cEndo, line width=0.85pt, unbounded coords=jump] coordinates {(2,0.0569)(2,0.0671) (nan,nan) (2,0.0502)(2,0.0402)};
\addplot[cMicro, line width=0.85pt, unbounded coords=jump] coordinates {(3,0.0424)(3,0.0527) (nan,nan) (3,0.0363)(3,0.0277)};
\addplot[cNeuroEx, line width=0.85pt, unbounded coords=jump] coordinates {(4,0.0763)(4,0.0878) (nan,nan) (4,0.0684)(4,0.0565)};
\addplot[cNeuroIn, line width=0.85pt, unbounded coords=jump] coordinates {(5,0.0568)(5,0.0686) (nan,nan) (5,0.0496)(5,0.0392)};
\addplot[cOligo, line width=0.85pt, unbounded coords=jump] coordinates {(6,0.0532)(6,0.0633) (nan,nan) (6,0.0464)(6,0.0368)};
\addplot[cOPC, line width=0.85pt, unbounded coords=jump] coordinates {(7,0.0104)(7,0.0147) (nan,nan) (7,0.0070)(7,0.0032)};
% boxes
\addplot[draw=cAstro, fill=white, line width=0.85pt] coordinates {(0.86,0.0460)(1.14,0.0460)(1.14,0.0532)(0.86,0.0532)(0.86,0.0460)};
\addplot[draw=cEndo, fill=white, line width=0.85pt] coordinates {(1.86,0.0502)(2.14,0.0502)(2.14,0.0569)(1.86,0.0569)(1.86,0.0502)};
\addplot[draw=cMicro, fill=white, line width=0.85pt] coordinates {(2.86,0.0363)(3.14,0.0363)(3.14,0.0424)(2.86,0.0424)(2.86,0.0363)};
\addplot[draw=cNeuroEx, fill=white, line width=0.85pt] coordinates {(3.86,0.0684)(4.14,0.0684)(4.14,0.0763)(3.86,0.0763)(3.86,0.0684)};
\addplot[draw=cNeuroIn, fill=white, line width=0.85pt] coordinates {(4.86,0.0496)(5.14,0.0496)(5.14,0.0568)(4.86,0.0568)(4.86,0.0496)};
\addplot[draw=cOligo, fill=white, line width=0.85pt] coordinates {(5.86,0.0464)(6.14,0.0464)(6.14,0.0532)(5.86,0.0532)(5.86,0.0464)};
\addplot[draw=cOPC, fill=white, line width=0.85pt] coordinates {(6.86,0.0070)(7.14,0.0070)(7.14,0.0104)(6.86,0.0104)(6.86,0.0070)};
% medians
\addplot[cAstro, line width=0.85pt] coordinates {(0.86,0.0498)(1.14,0.0498)};
\addplot[cEndo, line width=0.85pt] coordinates {(1.86,0.0541)(2.14,0.0541)};
\addplot[cMicro, line width=0.85pt] coordinates {(2.86,0.0397)(3.14,0.0397)};
\addplot[cNeuroEx, line width=0.85pt] coordinates {(3.86,0.0727)(4.14,0.0727)};
\addplot[cNeuroIn, line width=0.85pt] coordinates {(4.86,0.0535)(5.14,0.0535)};
\addplot[cOligo, line width=0.85pt] coordinates {(5.86,0.0505)(6.14,0.0505)};
\addplot[cOPC, line width=0.85pt] coordinates {(6.86,0.0089)(7.14,0.0089)};
% outliers
\addplot[only marks, mark=*, mark size=1.2pt, color=cAstro] coordinates {(1,0.0657)(1,0.0663)(1,0.0668)(1,0.0674)(1,0.0680)(1,0.0686)(1,0.0692)(1,0.0699)(1,0.0705)(1,0.0344)(1,0.0338)(1,0.0332)(1,0.0326)(1,0.0320)(1,0.0316)};
\addplot[only marks, mark=*, mark size=1.2pt, color=cEndo] coordinates {(2,0.0676)(2,0.0682)(2,0.0688)(2,0.0694)(2,0.0700)(2,0.0706)(2,0.0712)(2,0.0718)(2,0.0724)(2,0.0730)(2,0.0736)(2,0.0762)(2,0.0397)(2,0.0390)(2,0.0383)(2,0.0376)(2,0.0369)(2,0.0362)(2,0.0356)(2,0.0339)};
\addplot[only marks, mark=*, mark size=1.2pt, color=cMicro] coordinates {(3,0.0532)(3,0.0538)(3,0.0544)(3,0.0550)(3,0.0556)(3,0.0562)(3,0.0568)(3,0.0575)(3,0.0272)(3,0.0266)(3,0.0260)(3,0.0254)(3,0.0248)(3,0.0242)(3,0.0236)(3,0.0230)(3,0.0224)(3,0.0219)};
\addplot[only marks, mark=*, mark size=1.2pt, color=cNeuroEx] coordinates {(4,0.0884)(4,0.0890)(4,0.0896)(4,0.0902)(4,0.0908)(4,0.0914)(4,0.0920)(4,0.0926)(4,0.0932)(4,0.0957)(4,0.0559)(4,0.0553)(4,0.0547)(4,0.0541)(4,0.0535)(4,0.0529)(4,0.0523)(4,0.0517)(4,0.0510)(4,0.0503)(4,0.0498)};
\addplot[only marks, mark=*, mark size=1.2pt, color=cNeuroIn] coordinates {(5,0.0691)(5,0.0697)(5,0.0703)(5,0.0709)(5,0.0715)(5,0.0721)(5,0.0728)(5,0.0735)(5,0.0387)(5,0.0381)(5,0.0375)(5,0.0369)(5,0.0363)(5,0.0357)(5,0.0350)};
\addplot[only marks, mark=*, mark size=1.2pt, color=cOligo] coordinates {(6,0.0638)(6,0.0644)(6,0.0650)(6,0.0656)(6,0.0662)(6,0.0668)(6,0.0674)(6,0.0680)(6,0.0363)(6,0.0357)(6,0.0351)(6,0.0345)(6,0.0339)(6,0.0333)(6,0.0327)(6,0.0321)(6,0.0315)(6,0.0308)};
\addplot[only marks, mark=*, mark size=1.2pt, color=cOPC] coordinates {(7,0.0152)(7,0.0158)(7,0.0164)(7,0.0170)(7,0.0176)(7,0.0181)(7,0.0027)(7,0.0021)(7,0.0015)(7,0.0010)};
\begin{scope}[every node/.style={font=\nsans\fontsize{5.6}{6}\selectfont, inner sep=0pt}]
\node at (axis cs:1,0.1019) {***};
\node at (axis cs:4,0.1019) {***};
\node at (axis cs:5,0.1019) {***};
\node at (axis cs:7,0.1019) {***};
\end{scope}
\end{axis}

%================ PANEL E ================
\begin{axis}[at={(1449*0.37pt,-935.4*0.37pt)}, anchor=north west, scale only axis,
 width=85.47pt, height=127.28pt,
 xmin=-0.5, xmax=6.5, ymin=-0.5, ymax=19.5, y dir=reverse, hide axis, clip=false,
 colormap name=heat, point meta min=0, point meta max=20]
\addplot[matrix plot*, mesh/cols=7, point meta=explicit] table[meta=c, row sep=\\] {
x y c\\
0 0 0\\ 1 0 0\\ 2 0 5\\ 3 0 11\\ 4 0 6.5\\ 5 0 12\\ 6 0 11.5\\
0 1 0\\ 1 1 0\\ 2 1 8\\ 3 1 13\\ 4 1 3\\ 5 1 7.5\\ 6 1 10\\
0 2 0\\ 1 2 0\\ 2 2 13\\ 3 2 11\\ 4 2 3.5\\ 5 2 5\\ 6 2 6\\
0 3 0\\ 1 3 0\\ 2 3 13\\ 3 3 11\\ 4 3 3\\ 5 3 5\\ 6 3 9.5\\
0 4 0\\ 1 4 0\\ 2 4 4.5\\ 3 4 4.8\\ 4 4 11\\ 5 4 12.5\\ 6 4 10\\
0 5 4.7\\ 1 5 0\\ 2 5 12.5\\ 3 5 11\\ 4 5 5.5\\ 5 5 5.5\\ 6 5 4.3\\
0 6 0\\ 1 6 6\\ 2 6 6\\ 3 6 7\\ 4 6 3.5\\ 5 6 8\\ 6 6 11.5\\
0 7 0\\ 1 7 2.8\\ 2 7 5\\ 3 7 7\\ 4 7 6.5\\ 5 7 11\\ 6 7 10\\
0 8 0\\ 1 8 3.2\\ 2 8 2.5\\ 3 8 9\\ 4 8 5\\ 5 8 13\\ 6 8 13\\
0 9 0\\ 1 9 7.5\\ 2 9 11.5\\ 3 9 9.5\\ 4 9 4.7\\ 5 9 8.5\\ 6 9 9\\
0 10 0\\ 1 10 8\\ 2 10 8\\ 3 10 5.5\\ 4 10 12.5\\ 5 10 11\\ 6 10 8.8\\
0 11 0\\ 1 11 8\\ 2 11 4.8\\ 3 11 7\\ 4 11 7\\ 5 11 11.5\\ 6 11 6.2\\
0 12 0\\ 1 12 5\\ 2 12 6\\ 3 12 9.5\\ 4 12 10\\ 5 12 5.5\\ 6 12 9\\
0 13 0\\ 1 13 6.5\\ 2 13 8.8\\ 3 13 5.5\\ 4 13 8.5\\ 5 13 5\\ 6 13 11.8\\
0 14 0\\ 1 14 12.5\\ 2 14 6.5\\ 3 14 8\\ 4 14 11\\ 5 14 10.5\\ 6 14 13\\
0 15 0\\ 1 15 9.5\\ 2 15 2.8\\ 3 15 7\\ 4 15 3.4\\ 5 15 12.5\\ 6 15 5\\
0 16 0\\ 1 16 1.8\\ 2 16 11.5\\ 3 16 13\\ 4 16 9.5\\ 5 16 17\\ 6 16 6.5\\
0 17 2\\ 1 17 4\\ 2 17 3.2\\ 3 17 6.5\\ 4 17 12.5\\ 5 17 12\\ 6 17 7\\
0 18 2.5\\ 1 18 3\\ 2 18 3.4\\ 3 18 2.8\\ 4 18 2.8\\ 5 18 10\\ 6 18 9.5\\
0 19 0\\ 1 19 12.5\\ 2 19 0\\ 3 19 1.8\\ 4 19 12.5\\ 5 19 12.5\\ 6 19 12.5\\
};
% top dendrogram
\addplot[black!85, line width=0.55pt, unbounded coords=jump] coordinates {
(5,-0.68)(5,-1.384)(6,-1.384)(6,-0.68) (nan,nan)
(4,-0.68)(4,-1.884)(5.5,-1.884)(5.5,-1.384) (nan,nan)
(3,-0.68)(3,-2.023)(4.75,-2.023)(4.75,-1.884) (nan,nan)
(2,-0.68)(2,-2.890)(3.875,-2.890)(3.875,-2.023) (nan,nan)
(1,-0.68)(1,-4.593)(2.9375,-4.593)(2.9375,-2.890) (nan,nan)
(0,-0.68)(0,-6.645)(1.96875,-6.645)(1.96875,-4.593)
};
% left dendrogram
\addplot[black!85, line width=0.55pt, unbounded coords=jump] coordinates {
(-0.601,0)(-1.207,0)(-1.207,1)(-0.601,1) (nan,nan)
(-0.601,2)(-0.944,2)(-0.944,3)(-0.601,3) (nan,nan)
(-1.207,0.5)(-1.379,0.5)(-1.379,2.5)(-0.944,2.5) (nan,nan)
(-1.379,1.5)(-1.884,1.5)(-1.884,4)(-0.601,4) (nan,nan)
(-1.884,2.75)(-2.591,2.75)(-2.591,5)(-0.601,5) (nan,nan)
(-0.601,6)(-1.399,6)(-1.399,7)(-0.601,7) (nan,nan)
(-1.399,6.5)(-1.581,6.5)(-1.581,8)(-0.601,8) (nan,nan)
(-0.601,9)(-1.076,9)(-1.076,10)(-0.601,10) (nan,nan)
(-1.076,9.5)(-1.197,9.5)(-1.197,11)(-0.601,11) (nan,nan)
(-0.601,12)(-1.076,12)(-1.076,13)(-0.601,13) (nan,nan)
(-1.197,10.25)(-1.278,10.25)(-1.278,12.5)(-1.076,12.5) (nan,nan)
(-1.278,11.375)(-1.409,11.375)(-1.409,14)(-0.601,14) (nan,nan)
(-1.581,7.25)(-1.712,7.25)(-1.712,12.6875)(-1.409,12.6875) (nan,nan)
(-1.712,9.969)(-1.803,9.969)(-1.803,15)(-0.601,15) (nan,nan)
(-1.803,12.484)(-1.934,12.484)(-1.934,16)(-0.601,16) (nan,nan)
(-0.601,17)(-1.763,17)(-1.763,18)(-0.601,18) (nan,nan)
(-1.934,14.242)(-2.439,14.242)(-2.439,17.5)(-1.763,17.5) (nan,nan)
(-2.591,3.875)(-3.096,3.875)(-3.096,15.871)(-2.439,15.871) (nan,nan)
(-3.096,9.873)(-3.732,9.873)(-3.732,19)(-0.601,19)
};
\begin{scope}[every node/.style={anchor=west, inner sep=0pt, font=\esans\fontsize{6.9}{7}\selectfont}]
\node at (axis cs:6.62,0) {GO:0044057: regulation of system process};
\node at (axis cs:6.62,1) {R-HSA-2262752: Cellular responses to stress};
\node at (axis cs:6.62,2) {R-HSA-9675108: Nervous system development};
\node at (axis cs:6.62,3) {R-HSA-9824446: Viral Infection Pathways};
\node at (axis cs:6.62,4) {GO:0008283: cell population proliferation};
\node at (axis cs:6.62,5) {GO:0098657: import into cell};
\node at (axis cs:6.62,6) {GO:0045321: leukocyte activation};
\node at (axis cs:6.62,7) {R-HSA-372790: Signaling by GPCR};
\node at (axis cs:6.62,8) {GO:0003013: circulatory system process};
\node at (axis cs:6.62,9) {R-HSA-1280215: Cytokine Signaling in Immune system};
\node at (axis cs:6.62,10) {GO:0071345: cellular response to cytokine stimulus};
\node at (axis cs:6.62,11) {GO:0042803: protein homodimerization activity};
\node at (axis cs:6.62,12) {GO:0048732: gland development};
\node at (axis cs:6.62,13) {GO:0019900: kinase binding};
\node at (axis cs:6.62,14) {GO:0009725: response to hormone};
\node at (axis cs:6.62,15) {GO:0001501: skeletal system development};
\node at (axis cs:6.62,16) {R-HSA-9006934: Signaling by Receptor Tyrosine Kinases};
\node at (axis cs:6.62,17) {hsa05200: Pathways in cancer};
\node at (axis cs:6.62,18) {GO:0040008: regulation of growth};
\node at (axis cs:6.62,19) {GO:0071396: cellular response to lipid};
\end{scope}
\begin{scope}[every node/.style={rotate=-90, anchor=west, inner sep=0pt, font=\esans\fontsize{4.9}{5}\selectfont, text=black!85}]
\node at (axis cs:0,19.83) {OPC};
\node at (axis cs:1,19.83) {Micro};
\node at (axis cs:2,19.83) {Oligo};
\node at (axis cs:3,19.83) {Astro};
\node at (axis cs:4,19.83) {Neuro-In};
\node at (axis cs:5,19.83) {Endo};
\node at (axis cs:6,19.83) {Neuro-Ex};
\end{scope}
\end{axis}

% legend E
\begin{axis}[at={(1682.6*0.37pt,-850.4*0.37pt)}, anchor=north west, scale only axis,
 width=40.26pt, height=10.5pt, xmin=0, xmax=213, ymin=0, ymax=1,
 axis y line=none, axis x line*=bottom, axis line style={draw=none},
 xtick={0,18,26,37,63,107,213}, xticklabels={0,2,3,4,6,10,20},
 tick align=outside, major tick length=1.4pt, tick style={black, line width=0.3pt},
 xticklabel style={font=\esans\fontsize{3.8}{4}\selectfont, inner sep=0.6pt},
 title={-log10(P)}, title style={font=\esans\fontsize{4.2}{5}\selectfont, at={(0.5,1)}, anchor=center, yshift=2.6pt, inner sep=0pt},
 colormap name=heatleg, point meta min=0, point meta max=213]
\addplot[surf, shader=interp, mesh/cols=10, point meta=explicit] table[meta=v, row sep=\\] {
x y v\\
0 0 0\\ 13.5 0 13.5\\ 26 0 26\\ 37 0 37\\ 63 0 63\\ 85 0 85\\ 107 0 107\\ 133.5 0 133.5\\ 181 0 181\\ 213 0 213\\
0 1 0\\ 13.5 1 13.5\\ 26 1 26\\ 37 1 37\\ 63 1 63\\ 85 1 85\\ 107 1 107\\ 133.5 1 133.5\\ 181 1 181\\ 213 1 213\\
};
\end{axis}
\end{tikzpicture}
\end{document}
